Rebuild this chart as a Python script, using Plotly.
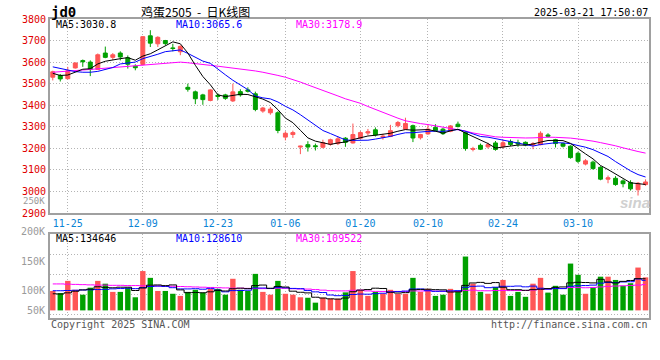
import plotly.graph_objects as go
import numpy as np

# ---------------- data ----------------
dates = ["11-21","11-22","11-25","11-26","11-27","11-28","11-29",
         "12-02","12-03","12-04","12-05","12-06","12-09","12-10","12-11","12-12","12-13",
         "12-16","12-17","12-18","12-19","12-20","12-23","12-24","12-25","12-26","12-27",
         "12-30","12-31",
         "01-02","01-03","01-06","01-07","01-08","01-09","01-10","01-13","01-14","01-15",
         "01-16","01-17","01-20","01-21","01-22","01-23","01-24","01-27",
         "02-05","02-06","02-07","02-10","02-11","02-12","02-13","02-14","02-17","02-18",
         "02-19","02-20","02-21","02-24","02-25","02-26","02-27","02-28",
         "03-03","03-04","03-05","03-06","03-07","03-10","03-11","03-12","03-13","03-14",
         "03-17","03-18","03-19","03-20","03-21"]

opens  = [3530,3538,3523,3573,3607,3600,3566,3642,3622,3642,3620,3581,3589,3722,3685,3700,
          3666,3648,3483,3462,3448,3422,3446,3448,3420,3463,3471,3453,3373,3365,3365,3252,
          3264,3206,3217,3212,3205,3219,3222,3247,3225,3247,3271,3286,3251,3255,3305,3289,
          3305,3249,3267,3297,3289,3279,3312,3274,3195,3214,3207,3225,3207,3232,3226,3228,
          3216,3217,3262,3240,3222,3210,3177,3127,3136,3112,3057,3061,3049,3041,3008,3032]
highs  = [3560,3545,3578,3598,3612,3608,3640,3672,3642,3650,3631,3590,3720,3748,3720,3703,
          3685,3678,3500,3468,3453,3474,3455,3453,3500,3474,3483,3463,3392,3392,3372,3279,
          3282,3212,3233,3222,3240,3245,3255,3252,3315,3280,3290,3297,3267,3309,3327,3342,
          3310,3267,3312,3312,3295,3308,3324,3280,3207,3222,3226,3234,3240,3241,3240,3232,
          3229,3279,3270,3244,3226,3214,3184,3150,3143,3117,3074,3071,3056,3052,3044,3056]
lows   = [3515,3510,3520,3570,3578,3535,3565,3618,3610,3608,3570,3562,3585,3670,3670,3678,
          3650,3632,3463,3405,3402,3418,3425,3425,3415,3440,3459,3372,3365,3356,3270,3237,
          3248,3173,3185,3190,3200,3212,3215,3207,3222,3243,3260,3255,3240,3252,3297,3285,
          3229,3241,3263,3279,3262,3275,3297,3189,3186,3192,3199,3189,3200,3211,3207,3210,
          3196,3214,3250,3204,3204,3152,3132,3121,3101,3052,3038,3026,3019,3004,2981,3026]
closes = [3555,3522,3560,3596,3602,3566,3634,3622,3634,3624,3590,3574,3718,3688,3715,3686,
          3663,3673,3474,3430,3426,3471,3441,3432,3462,3448,3465,3380,3387,3382,3283,3270,
          3273,3210,3206,3208,3227,3240,3244,3228,3264,3273,3277,3262,3256,3282,3320,3315,
          3248,3264,3289,3282,3268,3304,3301,3199,3199,3196,3217,3195,3226,3218,3220,3215,
          3221,3270,3256,3222,3210,3157,3140,3142,3106,3057,3063,3032,3036,3012,3038,3044]
volumes = [83000,74000,126000,88000,67000,97000,126000,114000,79000,79000,
           97000,56000,168000,139000,83000,83000,71000,62000,79000,88000,
           76000,92000,92000,67000,135000,88000,83000,156000,79000,67000,
           126000,71000,67000,56000,54000,33000,54000,50000,50000,77000,
           168000,88000,62000,79000,71000,88000,71000,71000,139000,79000,
           92000,62000,67000,92000,83000,230000,114000,79000,71000,100000,
           130000,62000,79000,58000,114000,139000,76000,105000,67000,200000,
           152000,71000,97000,144000,144000,130000,105000,116000,183000,141000]

ma5_head  = [3548,3538,3540,3552]
ma10_head = [3578,3570,3563,3556,3553,3553,3557,3565,3575]
ma30_head = [3553,3555,3557,3560,3563,3566,3569,3572,3575,3578,3581,3584,3587,3590,3593,
             3596,3598,3600,3597,3592,3588,3585,3581,3577,3573,3569,3565,3559,3553]
vma5_head  = [71000,70000,75000,82000]
vma10_head = [84000,84000,85000,86000,87000,88000,89000,90000,92000]
vma30_head = [113000,113000,112000,111000,110000,109000,108000,108000,107000,107000,
              106000,106000,105000,104000,104000,103000,103000,102000,101000,100000,
              99000,98000,97000,96000,95000,95000,94000,93000,93000]

tick_dates = ["11-25","12-09","12-23","01-06","01-20","02-10","02-24","03-10"]
price_ticks = [2900,3000,3100,3200,3300,3400,3500,3600,3700,3800]
vol_tick_labels = ["250K","200K","150K","100K","50K"]

title_code = "jd0"
title_text = "鸡蛋2505&nbsp;&nbsp;-&nbsp;&nbsp;日K线图"
timestamp = "2025-03-21 17:50:07"
price_legend = [("MA5:3030.8", "#000000"), ("MA10:3065.6", "#0000ff"), ("MA30:3178.9", "#ff00ff")]
vol_legend = [("MA5:134646", "#000000"), ("MA10:128610", "#0000ff"), ("MA30:109522", "#ff00ff")]
copyright_text = "Copyright 2025 SINA.COM"
url_text = "http://finance.sina.com.cn"

# ---------------- helpers ----------------
def rolling(vals, n, head):
    out = list(head)
    v = np.array(vals, dtype=float)
    for i in range(len(head), len(v)):
        out.append(v[i - n + 1:i + 1].mean())
    return out

x = list(range(len(dates)))
ma5 = rolling(closes, 5, ma5_head)
ma10 = rolling(closes, 10, ma10_head)
ma30 = rolling(closes, 30, ma30_head)
vma5 = rolling(volumes, 5, vma5_head)
vma10 = rolling(volumes, 10, vma10_head)
vma30 = rolling(volumes, 30, vma30_head)

RED = "#ff5555"
GREEN = "#00a000"
bar_colors = [RED if c >= o else GREEN for o, c in zip(opens, closes)]
tick_idx = [dates.index(d) for d in tick_dates]

W, H = 660, 360
L, R, T, B = 50, 11, 19, 42
PW, PH = W - L - R, H - T - B

def px(xp):
    return (xp - L) / PW

def py(yp):
    return (H - B - yp) / PH

MONO = "DejaVu Sans Mono"

fig = go.Figure()

fig.add_trace(go.Candlestick(
    x=x, open=opens, high=highs, low=lows, close=closes,
    increasing=dict(line=dict(color=RED, width=1), fillcolor=RED),
    decreasing=dict(line=dict(color=GREEN, width=1), fillcolor=GREEN),
    whiskerwidth=0, xaxis="x", yaxis="y", hoverinfo="skip", showlegend=False))

for vals, col in [(ma30, "#ff00ff"), (ma10, "#0000ff"), (ma5, "#000000")]:
    fig.add_trace(go.Scatter(x=x, y=vals, mode="lines", line=dict(color=col, width=1),
                             xaxis="x", yaxis="y", hoverinfo="skip", showlegend=False))

fig.add_trace(go.Bar(x=x, y=volumes, marker=dict(color=bar_colors, line=dict(width=0)),
                     width=0.72, xaxis="x2", yaxis="y2", hoverinfo="skip", showlegend=False))

for vals, col in [(vma30, "#ff00ff"), (vma10, "#0000ff"), (vma5, "#000000")]:
    fig.add_trace(go.Scatter(x=x, y=vals, mode="lines", line=dict(color=col, width=1, shape="hvh"),
                             xaxis="x2", yaxis="y2", hoverinfo="skip", showlegend=False))

GRID = "#b4b4b4"
BORDER = "#a0a0a0"
xr = [-0.37, 79.46]
price_dom = [py(213), 1.0]
vol_dom = [0.0, py(234.3)]

fig.update_layout(
    width=W, height=H, margin=dict(l=L, r=R, t=T, b=B, autoexpand=False),
    paper_bgcolor="white", plot_bgcolor="white",
    boxgap=0.25, bargap=0.25,
    xaxis=dict(range=xr, domain=[0, 1], anchor="y", rangeslider=dict(visible=False),
               tickvals=tick_idx, ticktext=tick_dates, ticks="", showgrid=True,
               gridcolor=GRID, griddash="1px,2px", gridwidth=1, automargin=False,
               tickfont=dict(family=MONO, size=10, color="#0a84d6"),
               showline=True, mirror=True, linecolor=BORDER, linewidth=2, zeroline=False),
    yaxis=dict(range=[2900, 3800], domain=price_dom, anchor="x",
               tickvals=price_ticks, ticks="", showgrid=True, gridcolor=GRID,
               griddash="1px,2px", gridwidth=1, automargin=False,
               tickfont=dict(family=MONO, size=10, color="#e00000"),
               showline=True, mirror=True, linecolor=BORDER, linewidth=2, zeroline=False),
    xaxis2=dict(range=xr, domain=[0, 1], anchor="y2", matches="x",
                tickvals=tick_idx, showticklabels=False, ticks="", showgrid=True,
                gridcolor=GRID, griddash="1px,2px", gridwidth=1, automargin=False,
                showline=True, mirror=True, linecolor=BORDER, linewidth=2, zeroline=False),
    yaxis2=dict(range=[-32500, 325000], domain=vol_dom, anchor="x2",
                tick0=66700, dtick=85100, showticklabels=False, ticks="", showgrid=True,
                gridcolor=GRID, griddash="1px,2px", gridwidth=1, automargin=False,
                showline=True, mirror=True, linecolor=BORDER, linewidth=2, zeroline=False),
)

ann = []
def add_text(text, xp, yp, xanchor="left", size=10, color="#000", family=MONO, **kw):
    ann.append(dict(text=text, x=px(xp), y=py(yp), xref="paper", yref="paper",
                    xanchor=xanchor, yanchor="middle", showarrow=False,
                    font=dict(family=family, size=size, color=color), **kw))

add_text("<b>" + title_code + "</b>", 49, 12, size=14, family="DejaVu Sans Mono")
add_text(title_text, 139, 11, size=12, family="Noto Sans CJK SC")
add_text(timestamp, 650, 12, xanchor="right")
for (t, c), xx in zip(price_legend, [54, 174, 294]):
    add_text(t, xx, 25, color=c)
for (t, c), xx in zip(vol_legend, [54, 174, 294]):
    add_text(t, xx, 238.5, color=c)
for t, yy, sz in zip(vol_tick_labels, [201, 231, 261.5, 290.5, 310], [9, 10, 10, 10, 10]):
    add_text(t, 47, yy, xanchor="right", color="#9a9a9a", size=sz)
add_text(copyright_text, 49, 324, color="#555555")
add_text(url_text, 650, 324, xanchor="right", color="#555555")
add_text("<b><i>sina</i></b>", 635, 202, xanchor="center", size=15, color="#d0d0d0",
         family="Liberation Sans")

fig.update_layout(annotations=ann)
fig.write_html(
    "out.html",
    config={"displayModeBar": False, "staticPlot": True},
    post_script=("document.body.style.margin='0';"
                 "document.body.style.overflow='hidden';"
                 "document.documentElement.style.overflow='hidden';"),
)
